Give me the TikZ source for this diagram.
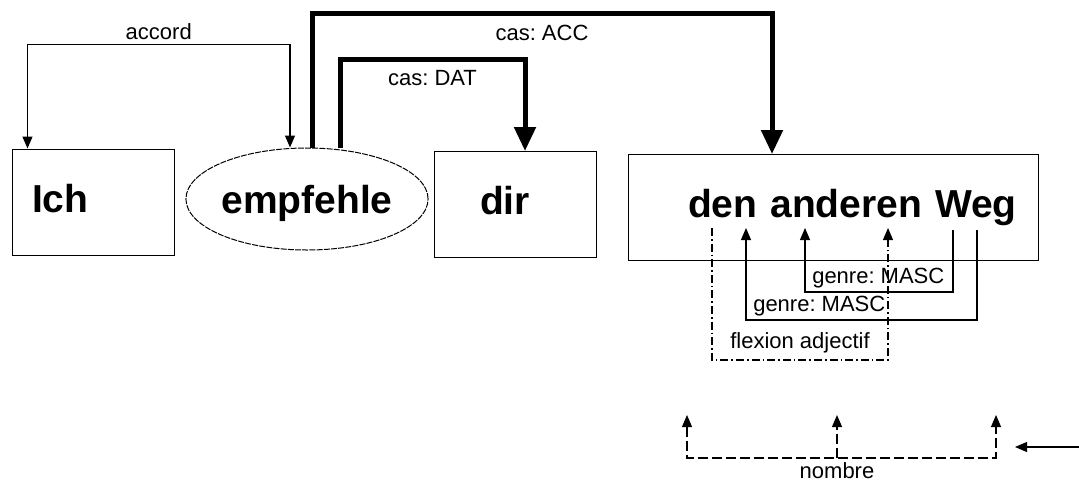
\documentclass[tikz,border=0pt]{standalone}
\usepackage{fontspec}
\setmainfont{Liberation Sans}
\frenchspacing
\usetikzlibrary{arrows.meta,shapes.geometric}

\begin{document}
\begin{tikzpicture}[x=0.5pt,y=-0.5pt,
    arr/.tip={Triangle[length=6pt,width=5pt]},
    bigarr/.tip={Triangle[length=12pt,width=10.5pt]},
    wordbox/.style={draw,line width=0.5pt,align=left,inner xsep=0pt,
      text height=14pt,text depth=4pt,minimum height=53pt,
      font=\fontsize{19.5}{20}\selectfont\bfseries},
    verbnode/.style={draw,ellipse,line width=0.5pt,dash pattern=on 3pt off 0.6pt,
      inner sep=0pt,minimum width=115pt,minimum height=51pt,
      text height=14pt,text depth=0pt,font=\fontsize{19.5}{20}\selectfont\bfseries},
    lbl/.style={font=\fontsize{11}{12}\selectfont},
    govern/.style={line width=2.5pt,-bigarr},
    agree/.style={line width=0.6pt,-arr},
    flex/.style={agree,dash pattern=on 4pt off 1.5pt on 0.8pt off 1.5pt},
    numline/.style={line width=0.6pt,dash pattern=on 5pt off 2pt}]
  \useasboundingbox (0,0) rectangle (1079,482);

  \node[wordbox,text width=81pt] (ich) at (93,202) {\hspace*{10pt}Ich};
  \node[verbnode] (emp) at (307,199) {empfehle};
  \node[wordbox,text width=81pt] (dir) at (515,204.5) {\hspace*{23pt}dir};
  \node[wordbox,text width=205pt] (weg) at (833,207.5) {\hspace*{30pt}den anderen Weg};

  \draw[agree,arr-arr] ([xshift=8pt]ich.north west) -- ++(0,-104) -| ([xshift=-8.5pt]emp.north)
    node[pos=0.25,above=-1pt,lbl] {accord};
  \draw[govern] ([xshift=2.5pt]emp.north) -- ++(0,-134) -| ([xshift=-30.5pt]weg.north)
    node[pos=0.25,below=1pt,lbl] {cas: ACC};
  \draw[govern] ([xshift=16.5pt]emp.north) -- ++(0,-88) -| ([xshift=5pt]dir.north)
    node[pos=0.25,below=1pt,lbl] {cas: DAT};

  % under the words
  \coordinate (denL) at (712,228);
  \coordinate (denR) at (746,228);
  \coordinate (andL) at (805,228);
  \coordinate (andR) at (888,228);
  \coordinate (wegL) at (953,230);
  \coordinate (wegR) at (977,230);

  \draw[agree] (wegL) -- ++(0,62) -| (andL)
    node[pos=0.5,above right,inner ysep=1.5pt,lbl] {genre: MASC};
  \draw[agree] (wegR) -- ++(0,90) -| (denR)
    node[pos=0.5,above right,inner ysep=1.5pt,lbl] {genre: MASC};
  \draw[flex] (denL) -- ++(0,132) -| (andR)
    node[pos=0.25,above,lbl] {flexion adjectif};

  % nombre
  \coordinate (numA) at (687,415);
  \coordinate (numB) at (837,415);
  \coordinate (numC) at (996,415);
  \coordinate (numbase) at (837,458);
  \draw[numline,arr-arr] (numA) -- (numA |- numbase) -- (numC |- numbase) -- (numC);
  \draw[numline,-arr] (numbase) -- (numB);
  \node[lbl,below,inner ysep=2pt] (nombre) at (numbase) {nombre};

  \coordinate (edge) at (1079,447);
  \coordinate (numin) at (1015,447);
  \draw[agree] (edge) -- (numin);
\end{tikzpicture}
\end{document}
